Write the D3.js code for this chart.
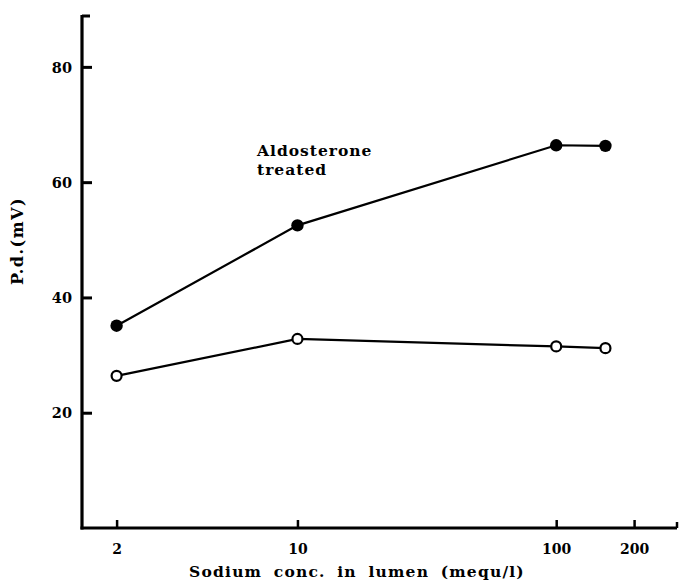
<!DOCTYPE html>
<html>
<head>
<meta charset="utf-8">
<script src="https://cdn.jsdelivr.net/npm/d3@7"></script>
<style>
  html, body { margin: 0; padding: 0; background: #fff; }
  svg { display: block; }
  text { font-family: "DejaVu Serif", "Liberation Serif", serif; font-weight: bold; fill: #000; }
</style>
</head>
<body>
<svg id="chart" width="680" height="582"></svg>
<script>
// ---- Data ----
const concentrations = [2, 10, 100, 155];
const aldosteroneTreated = [35.1, 52.5, 66.4, 66.3];
const control = [26.4, 32.8, 31.5, 31.2];
const xTickValues = [2, 10, 100, 200];
const xTickLabels = ["2", "10", "100", "200"];
const yTickValues = [20, 40, 60, 80];
const yTickLabels = ["20", "40", "60", "80"];
const seriesLabel = ["Aldosterone", "treated"];
const xTitle = "Sodium conc. in lumen (mequ/l)";
const yTitle = "P.d.(mV)";

// ---- Layout ----
const svg = d3.select("#chart");
const x = d3.scaleLog().domain([1.47, 293]).range([82, 677]);
const y = d3.scaleLinear().domain([0, 89]).range([528, 15]);

// Axes
const yAxis = d3.axisRight(y)
  .tickValues(yTickValues)
  .tickFormat((d, i) => yTickLabels[i])
  .tickSize(10)
  .tickSizeOuter(0);
const yg = svg.append("g").attr("transform", `translate(${x.range()[0]},0)`).call(yAxis);
yg.select(".domain").attr("stroke", "#000").attr("stroke-width", 3.2)
  .attr("d", `M0,${y.range()[1]}V${y.range()[0] + 1.5}`);
yg.selectAll(".tick line").attr("stroke", "#000").attr("stroke-width", 3);
yg.selectAll(".tick text")
  .attr("x", -10).attr("dy", "0.36em")
  .attr("text-anchor", "end")
  .style("font-size", "14.5px");
// top cap
yg.append("line").attr("x1", 0).attr("x2", 8)
  .attr("y1", y.range()[1] + 1).attr("y2", y.range()[1] + 1)
  .attr("stroke", "#000").attr("stroke-width", 3);

const xAxis = d3.axisTop(x)
  .tickValues(xTickValues)
  .tickFormat((d, i) => xTickLabels[i])
  .tickSize(8)
  .tickSizeOuter(0);
const xg = svg.append("g").attr("transform", `translate(0,${y(0)})`).call(xAxis);
xg.select(".domain").attr("stroke", "#000").attr("stroke-width", 3.2)
  .attr("d", `M${x.range()[0] - 1.5},0H${x.range()[1]}`);
xg.selectAll(".tick line").attr("stroke", "#000").attr("stroke-width", 2.5);
xg.selectAll(".tick text")
  .attr("y", 26).attr("dy", 0)
  .attr("text-anchor", "middle")
  .style("font-size", "14px");
// right end upturn
xg.append("line").attr("x1", x.range()[1]).attr("x2", x.range()[1])
  .attr("y1", 0).attr("y2", -6)
  .attr("stroke", "#000").attr("stroke-width", 2.5);

// Lines
const line = d3.line().x(d => x(d[0])).y(d => y(d[1]));
const treatedPts = concentrations.map((c, i) => [c, aldosteroneTreated[i]]);
const controlPts = concentrations.map((c, i) => [c, control[i]]);

svg.append("path").datum(treatedPts).attr("d", line)
  .attr("fill", "none").attr("stroke", "#000").attr("stroke-width", 2.2);
svg.append("path").datum(controlPts).attr("d", line)
  .attr("fill", "none").attr("stroke", "#000").attr("stroke-width", 2.2);

svg.selectAll("circle.treated").data(treatedPts).enter().append("circle")
  .attr("class", "treated")
  .attr("cx", d => x(d[0])).attr("cy", d => y(d[1]))
  .attr("r", 6.2).attr("fill", "#000");
svg.selectAll("circle.control").data(controlPts).enter().append("circle")
  .attr("class", "control")
  .attr("cx", d => x(d[0])).attr("cy", d => y(d[1]))
  .attr("r", 5).attr("fill", "#fff").attr("stroke", "#000").attr("stroke-width", 2.2);

// Series annotation
const ann = svg.append("text").attr("x", 257).attr("y", 156)
  .style("font-size", "15.5px").style("letter-spacing", "1px");
ann.append("tspan").attr("x", 257).attr("y", 156).text(seriesLabel[0]);
ann.append("tspan").attr("x", 257).attr("y", 175).text(seriesLabel[1]);

// Axis titles
svg.append("text").attr("x", 357).attr("y", 577)
  .attr("text-anchor", "middle")
  .style("font-size", "15.5px").style("letter-spacing", "1.2px").style("word-spacing", "5px")
  .text(xTitle);
svg.append("text")
  .attr("transform", "translate(23,241) rotate(-90)")
  .attr("text-anchor", "middle")
  .style("font-size", "16px").style("letter-spacing", "1.5px")
  .text(yTitle);
</script>
</body>
</html>
